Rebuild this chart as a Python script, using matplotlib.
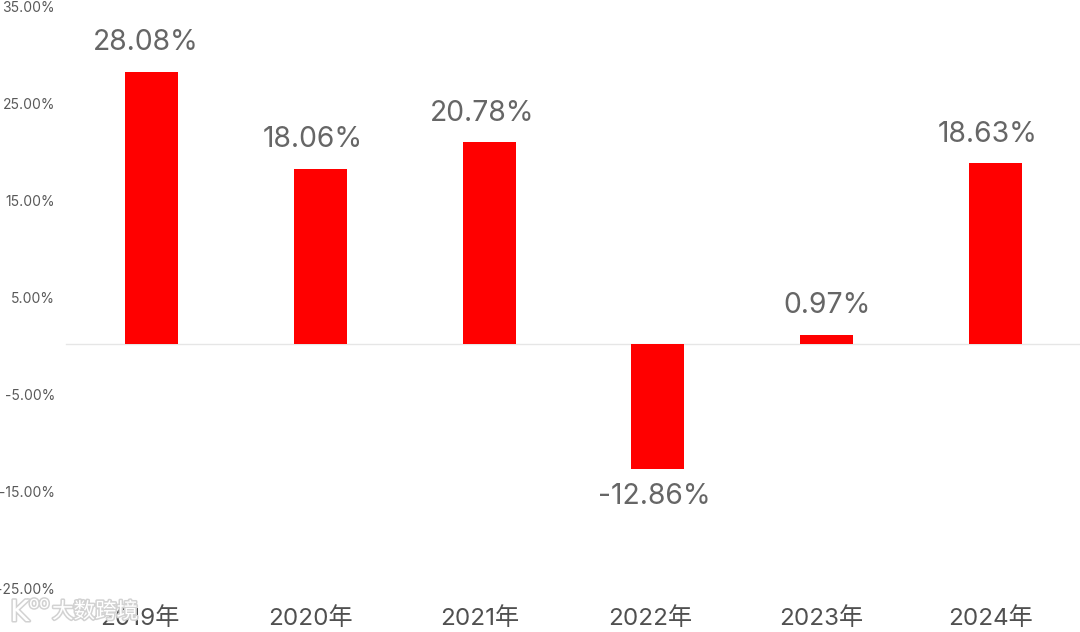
import matplotlib
matplotlib.use("Agg")
import matplotlib.pyplot as plt
import matplotlib.patheffects as pe

plt.rcParams['font.family'] = ['Inter', 'Noto Sans CJK SC', 'DejaVu Sans']

years = ['2019年', '2020年', '2021年', '2022年', '2023年', '2024年']
returns = [28.08, 18.06, 20.78, -12.86, 0.97, 18.63]
value_labels = ['28.08%', '18.06%', '20.78%', '-12.86%', '0.97%', '18.63%']
y_ticks = [35, 25, 15, 5, -5, -15, -25]
y_tick_labels = ['35.00%', '25.00%', '15.00%', '5.00%', '-5.00%', '-15.00%', '-25.00%']

# horizontal nudges of the text, in pixels, as seen in the reference
value_label_dx = [-6, -7, -7, -4, 0, -8]
year_label_dx = [-12, -10, -9, -8, -6, -5]

W, H = 1080, 632
PX = 72 / 100  # points per pixel
fig = plt.figure(figsize=(W / 100, H / 100), dpi=100, facecolor='white')
top, bottom, left, right = 4.5, 586.5, 67, 1080
ax = fig.add_axes([left / W, 1 - bottom / H, (right - left) / W, (bottom - top) / H])
ax.set_xlim(-0.5, 5.5)
ax.set_ylim(-25, 35)
for s in ax.spines.values():
    s.set_visible(False)
ax.axhline(0, xmin=-0.001, color='#e6e6e6', lw=1, zorder=1, clip_on=False)

ax.bar(range(len(years)), returns, width=0.314, color='#ff0000', zorder=2)

ax.set_yticks(y_ticks)
ax.set_yticklabels([])
ax.tick_params(axis='y', length=0)
for v, lab in zip(y_ticks, y_tick_labels):
    ax.annotate(lab, (0, v), xycoords=('axes fraction', 'data'),
                xytext=(-12 * PX, -3.5 * PX), textcoords='offset points',
                ha='right', va='center', fontsize=10, color='#595959', annotation_clip=False)

ax.set_xticks([])
for i, (lab, dx) in enumerate(zip(years, year_label_dx)):
    ax.annotate(lab, (i, -25), xytext=(dx * PX, -32.5 * PX), textcoords='offset points',
                ha='center', va='center', fontsize=17.4, color='#505050', annotation_clip=False)

for i, (v, lab, dx) in enumerate(zip(returns, value_labels, value_label_dx)):
    offset = 29 if v >= 0 else -28
    ax.annotate(lab, (i, v), xytext=(dx * PX, offset * PX), textcoords='offset points',
                ha='center', va='center', fontsize=20.4, color='#666666', zorder=3,
                annotation_clip=False)

# watermark
glow = [pe.withStroke(linewidth=2.2, foreground='#d2d2d2')]
fig.text(52 / W, 1 - 612 / H, '大数跨境', fontsize=15.5, color='white', ha='left', va='center',
         family='Noto Sans CJK SC', path_effects=glow, zorder=5)
fig.text(10 / W, 1 - 613 / H, 'K', fontsize=21, color='white', ha='left', va='center',
         family='DejaVu Sans', path_effects=glow, zorder=5)
fig.text(29 / W, 1 - 603 / H, 'oo', fontsize=12, color='white', ha='left', va='center',
         family='DejaVu Sans', path_effects=glow, zorder=5)

fig.savefig('out.png', dpi=100)
